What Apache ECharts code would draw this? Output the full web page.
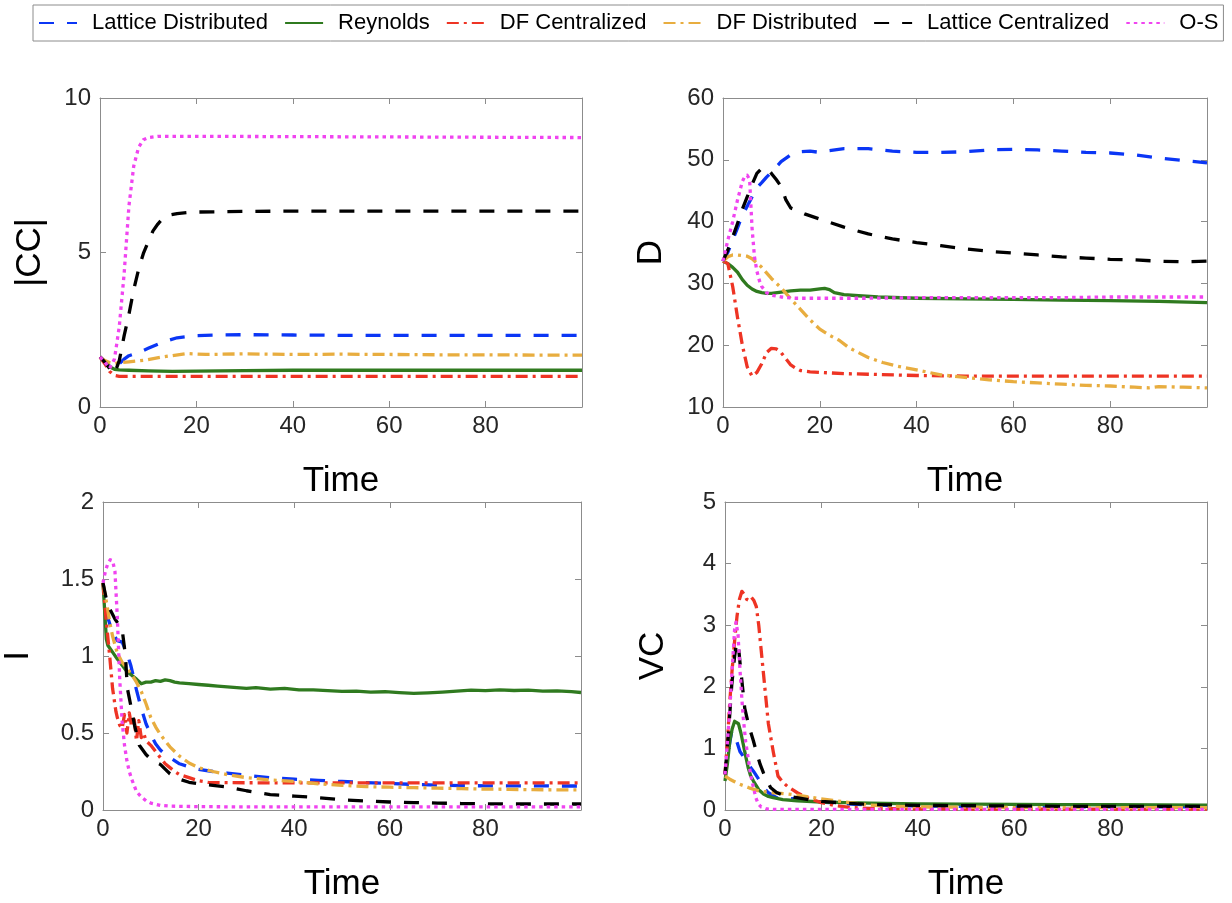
<!DOCTYPE html>
<html>
<head>
<meta charset="utf-8">
<script src="https://cdn.jsdelivr.net/npm/echarts@6/dist/echarts.min.js"></script>
<style>html,body{margin:0;padding:0;background:#fff;}#c{width:1232px;height:903px;}</style>
</head>
<body>
<div id="c"></div>
<script>
// ---------- DATA ----------
const seriesNames = ['Lattice Distributed','Reynolds','DF Centralized','DF Distributed','Lattice Centralized','O-S'];
const xTicks = [0,20,40,60,80];
const yNames = ['|CC|','D','I','VC'];

// |CC| panel
const icc_LD_t = [0,1,2,3,4,5,6,8,10,13,16,20,25,30,40,50,60,70,80,90,100];
const icc_LD_v = [1.62,1.48,1.32,1.2,1.4,1.55,1.66,1.76,1.9,2.1,2.24,2.31,2.33,2.34,2.33,2.32,2.32,2.32,2.32,2.32,2.32];
const icc_RE_t = [0,1,2,3,4,6,10,15,20,30,40,50,60,70,80,90,100];
const icc_RE_v = [1.62,1.45,1.3,1.22,1.2,1.19,1.17,1.15,1.16,1.18,1.19,1.19,1.19,1.19,1.19,1.19,1.19];
const icc_DC_t = [0,1,2,3,4,10,100];
const icc_DC_v = [1.62,1.4,1.15,1.02,0.99,0.99,0.99];
const icc_DD_t = [0,1,2,3,4,6,9,13,18,22,30,40,50,60,70,80,90,100];
const icc_DD_v = [1.62,1.5,1.44,1.41,1.43,1.46,1.51,1.62,1.73,1.7,1.72,1.7,1.71,1.7,1.69,1.69,1.68,1.68];
const icc_LC_t = [0,1,2,3,4,5,6,7,8,9,10,11,12,13,14,16,18,20,30,40,50,60,70,80,90,100];
const icc_LC_v = [1.62,1.45,1.25,1.08,1.5,2.3,3.0,3.8,4.45,4.97,5.35,5.7,5.92,6.1,6.2,6.26,6.29,6.31,6.33,6.34,6.34,6.34,6.34,6.34,6.34,6.34];
const icc_OS_t = [0,1,2,3,4,5,6,7,8,9,10,12,20,40,60,80,100];
const icc_OS_v = [1.62,1.45,1.25,1.55,2.6,4.3,6.5,7.8,8.4,8.65,8.72,8.76,8.76,8.75,8.74,8.73,8.72];

// D panel
const d_LD_t = [0,1,2,3,4,5,6,7,8,9,10,12,14,16,18,20,22,25,30,35,40,45,50,55,60,65,70,75,80,85,90,95,100];
const d_LD_v = [33.6,35,37,39,41,42.5,44,45.5,46.3,47.2,48,49.7,50.8,51.3,51.4,51.2,51.5,51.8,51.8,51.4,51.2,51.2,51.3,51.6,51.7,51.6,51.4,51.2,51.1,50.8,50.3,49.9,49.5];
const d_RE_t = [0,1,2,3,4,5,6,7,8,9,10,12,14,16,18,20,21,22,23,25,28,32,40,50,60,70,80,90,100];
const d_RE_v = [33.6,33.2,32.6,31.8,30.6,29.7,29.1,28.7,28.5,28.4,28.4,28.6,28.8,28.9,28.9,29.1,29.2,29.0,28.5,28.2,28.0,27.8,27.6,27.5,27.4,27.3,27.2,27.1,26.9];
const d_DC_t = [0,1,2,3,4,5,6,7,8,9,10,11,12,13,14,15,16,18,20,25,30,40,50,60,70,80,90,100];
const d_DC_v = [33.6,33.2,29.5,24.5,20,16.5,15,15.6,17,18.8,19.5,19.4,18.8,17.8,16.8,16.3,15.9,15.7,15.6,15.4,15.3,15.1,15.0,15.0,15.0,15.0,15.0,15.0];
const d_DD_t = [0,1,2,3,4,5,6,7,8,10,12,14,16,18,20,22,24,26,28,30,33,36,40,45,50,55,60,65,70,75,80,85,88,90,95,100];
const d_DD_v = [33.6,34.3,34.6,34.6,34.5,34.4,34.0,33.3,32.6,30.8,29.3,27.5,25.8,24.1,22.6,21.6,20.8,19.6,18.8,18.0,17.2,16.6,16.0,15.2,14.8,14.4,14.1,13.9,13.7,13.5,13.4,13.2,13.1,13.3,13.2,13.1];
const d_LC_t = [0,1,2,3,4,5,6,7,8,9,10,11,12,13,14,15,17,20,25,30,35,40,45,50,55,60,65,70,75,80,85,90,95,100];
const d_LC_v = [33.6,35.4,37.5,39.7,42,44,46,47.8,48.6,48.7,47.8,46.8,45.7,43.5,42.2,41.9,41.2,40.4,39.1,38,37.2,36.6,36.1,35.6,35.2,34.9,34.6,34.3,34.1,33.9,33.8,33.6,33.5,33.6];
const d_OS_t = [0,1,2,3,4,4.5,5,5.5,6,6.5,7,7.5,8,9,10,12,15,20,30,40,50,60,70,80,90,100];
const d_OS_v = [33.6,37,40,43.5,46.5,47.3,47.5,46.8,39,34.3,32,30.5,29.5,28.5,28.1,27.8,27.6,27.6,27.6,27.7,27.7,27.7,27.7,27.8,27.8,27.8];

// I panel
const i_LD_t = [0,1,1.5,2,3,4,5,5.8,6.5,7,8,9,10,11,12,13,14,16,18,20,23,26,30,35,40,45,50,55,60,65,70,75,80,85,90,95,100];
const i_LD_v = [1.475,1.25,1.2,1.15,1.1,1.09,1.02,0.94,0.85,0.78,0.66,0.56,0.49,0.43,0.39,0.36,0.34,0.3,0.28,0.264,0.25,0.24,0.225,0.21,0.2,0.193,0.185,0.178,0.172,0.166,0.162,0.158,0.157,0.157,0.157,0.156,0.156];
const i_RE_t = [0,0.7,1,2,3,4,5,6,7,8,9,10,11,12,13,14,15,16,18,20,22,24,26,28,30,32,35,38,41,44,47,50,53,56,59,62,65,68,71,74,77,80,83,86,89,92,95,98,100];
const i_RE_v = [1.475,1.11,1.07,1.025,0.98,0.94,0.9,0.875,0.85,0.82,0.83,0.83,0.84,0.835,0.845,0.84,0.83,0.825,0.82,0.815,0.81,0.805,0.8,0.795,0.79,0.795,0.785,0.79,0.78,0.78,0.775,0.77,0.772,0.765,0.768,0.762,0.757,0.76,0.765,0.772,0.778,0.775,0.78,0.776,0.778,0.772,0.774,0.768,0.763];
const i_DC_t = [0,0.7,1.4,2,2.7,3,3.5,4,4.5,5,5.5,6,6.5,7,7.5,8,8.5,9,10,11,12,13,14,15,16,18,20,22,25,30,40,50,60,70,80,90,100];
const i_DC_v = [1.475,1.22,1.0,0.79,0.64,0.6,0.55,0.53,0.62,0.5,0.63,0.54,0.6,0.45,0.58,0.47,0.5,0.45,0.42,0.38,0.34,0.3,0.275,0.25,0.23,0.21,0.19,0.18,0.178,0.177,0.176,0.176,0.176,0.176,0.176,0.176,0.176];
const i_DD_t = [0,1,1.4,2,2.7,3,4,5,6,7,8,9,10,11,12,13,14,16,18,20,23,26,30,35,40,45,50,55,60,65,70,75,80,85,90,95,100];
const i_DD_v = [1.475,1.3,1.22,1.13,1.05,1.02,0.96,0.92,0.88,0.83,0.77,0.69,0.6,0.54,0.49,0.45,0.41,0.35,0.305,0.275,0.25,0.23,0.21,0.195,0.185,0.17,0.16,0.152,0.148,0.145,0.142,0.139,0.136,0.134,0.132,0.131,0.131];
const i_LC_t = [0,0.7,1.5,2.5,3.4,4,4.7,5.1,5.8,6.6,7.6,9,10,11,12,13,14,16,18,20,23,26,30,35,40,45,50,55,60,65,70,75,80,85,90,95,100];
const i_LC_v = [1.475,1.37,1.3,1.24,1.2,1.175,1.0,0.79,0.68,0.55,0.42,0.36,0.33,0.31,0.296,0.265,0.235,0.2,0.18,0.17,0.16,0.15,0.125,0.1,0.09,0.08,0.066,0.058,0.052,0.048,0.045,0.042,0.04,0.039,0.039,0.039,0.039];
const i_OS_t = [0,0.5,1,1.5,2,2.5,3,3.5,4,4.5,5,5.5,6,7,8,9,10,12,14,20,30,100];
const i_OS_v = [1.475,1.55,1.6,1.625,1.62,1.55,1.25,0.85,0.575,0.42,0.32,0.25,0.2,0.12,0.085,0.06,0.045,0.03,0.025,0.022,0.02,0.02];

// VC panel
const vc_LD_t = [0,0.5,1,1.4,1.8,2.3,3.1,3.8,4.5,5.2,5.9,7,8,9,10.7,12,14.9,18,20,25,30,40,50,60,70,80,90,100];
const vc_LD_v = [0.58,0.85,1.1,1.28,1.3,1.15,0.95,0.87,0.79,0.7,0.63,0.5,0.365,0.28,0.2,0.19,0.18,0.15,0.13,0.1,0.08,0.065,0.06,0.055,0.05,0.05,0.05,0.05];
const vc_RE_t = [0,0.5,1,1.5,2,2.4,2.8,3.3,3.8,4.3,4.8,5.3,5.9,7,8,9,10,12,15,20,25,30,40,50,60,70,80,90,100];
const vc_RE_v = [0.47,0.75,1.12,1.32,1.44,1.46,1.4,1.25,1.06,0.87,0.69,0.56,0.47,0.33,0.26,0.22,0.2,0.17,0.15,0.13,0.12,0.11,0.1,0.095,0.09,0.088,0.085,0.082,0.08];
const vc_DC_t = [0,0.5,1,1.5,2,2.5,3,3.5,4,4.5,5,5.5,6,6.5,7,7.5,8,8.5,9,10,11,12,13,14,15,17,20,23,26,30,40,50,60,70,80,90,100];
const vc_DC_v = [0.58,1.1,1.76,2.3,2.75,3.15,3.42,3.55,3.5,3.42,3.4,3.45,3.4,3.3,3.0,2.6,2.2,1.8,1.4,0.95,0.55,0.45,0.38,0.33,0.28,0.2,0.12,0.07,0.04,0.025,0.02,0.015,0.015,0.015,0.015,0.015,0.015];
const vc_DD_t = [0,1,2,3,5,7,10,13,16,19,22,26,30,35,40,50,60,70,80,90,100];
const vc_DD_v = [0.55,0.5,0.46,0.42,0.36,0.31,0.28,0.26,0.23,0.19,0.16,0.12,0.08,0.06,0.05,0.045,0.04,0.04,0.04,0.04,0.04];
const vc_LC_t = [0,0.7,1.4,2,2.4,2.8,3.1,3.5,4.1,5,5.9,6.6,7.3,8,8.7,9.5,10.7,12,14.9,18,20,25,30,40,50,60,70,80,90,100];
const vc_LC_v = [0.58,1.22,2.03,2.5,2.72,2.65,2.4,2.1,1.65,1.35,1.12,0.92,0.74,0.6,0.47,0.36,0.285,0.24,0.2,0.16,0.14,0.11,0.09,0.075,0.07,0.065,0.06,0.06,0.06,0.06];
const vc_OS_t = [0,0.5,1,1.5,2,2.3,2.7,3.1,3.5,3.8,4.3,4.8,5.3,5.9,6.4,6.9,7.5,8.7,10,20,100];
const vc_OS_v = [0.58,1.1,1.65,2.3,2.94,3.05,2.85,2.29,1.8,1.49,1.1,0.85,0.58,0.365,0.2,0.1,0.05,0.016,0.01,0.01,0.01];

// ---------- STYLE / LAYOUT ----------
const FONT = "'Liberation Sans', Arial, Helvetica, sans-serif";
const colors = ['#0b36f5','#2f7a1f','#ee3424','#e8ad3f','#000000','#f044f0'];
const dashes = [[15,13],'solid',[12,5,3,5],[12,5,3,5],[15,13],[3.5,4]];
const AX = '#8c8c8c';
const TXT = '#262626';

const grids = [
  {left:100, top:98, width:482, height:309},
  {left:723, top:98, width:484, height:309},
  {left:99, top:502, width:482, height:311},
  {left:725, top:502, width:482, height:311}
];
const yRanges = [[0,10,5],[10,60,10],[0,2,0.5],[0,5,1]];
const yNameGaps = [52,54,67,54];

const panels = [
  [[icc_LD_t,icc_LD_v],[icc_RE_t,icc_RE_v],[icc_DC_t,icc_DC_v],[icc_DD_t,icc_DD_v],[icc_LC_t,icc_LC_v],[icc_OS_t,icc_OS_v]],
  [[d_LD_t,d_LD_v],[d_RE_t,d_RE_v],[d_DC_t,d_DC_v],[d_DD_t,d_DD_v],[d_LC_t,d_LC_v],[d_OS_t,d_OS_v]],
  [[i_LD_t,i_LD_v],[i_RE_t,i_RE_v],[i_DC_t,i_DC_v],[i_DD_t,i_DD_v],[i_LC_t,i_LC_v],[i_OS_t,i_OS_v]],
  [[vc_LD_t,vc_LD_v],[vc_RE_t,vc_RE_v],[vc_DC_t,vc_DC_v],[vc_DD_t,vc_DD_v],[vc_LC_t,vc_LC_v],[vc_OS_t,vc_OS_v]]
];

const xAxes = [], yAxes = [], series = [];
grids.forEach((g, gi) => {
  const base = {
    type:'value', gridIndex:gi, min:0, max:100, interval:20,
    axisLine:{show:true, onZero:false, lineStyle:{color:AX, width:1}},
    axisTick:{show:true, inside:true, length:6, lineStyle:{color:AX}},
    splitLine:{show:false}
  };
  xAxes.push(Object.assign({}, base, {
    position:'bottom',
    axisLabel:{show:true, fontSize:24, color:TXT, fontFamily:FONT, margin:7, showMaxLabel:false,
      formatter: v => xTicks.indexOf(v) >= 0 ? String(v) : ''},
    name:'Time', nameLocation:'middle', nameGap:57,
    nameTextStyle:{fontSize:35, color:'#000', fontFamily:FONT}
  }));
  xAxes.push(Object.assign({}, base, {position:'top', axisLabel:{show:false}}));
  const yr = yRanges[gi];
  const ybase = {
    type:'value', gridIndex:gi, min:yr[0], max:yr[1], interval:yr[2],
    axisLine:{show:true, onZero:false, lineStyle:{color:AX, width:1}},
    axisTick:{show:true, inside:true, length:6, lineStyle:{color:AX}},
    splitLine:{show:false}
  };
  yAxes.push(Object.assign({}, ybase, {
    position:'left',
    axisLabel:{show:true, fontSize:24, color:TXT, fontFamily:FONT, margin:9},
    name:yNames[gi], nameLocation:'middle', nameGap:yNameGaps[gi],
    nameTextStyle:{fontSize:35, color:'#000', fontFamily:FONT}
  }));
  yAxes.push(Object.assign({}, ybase, {position:'right', axisLabel:{show:false}}));

  panels[gi].forEach((p, si) => {
    series.push({
      type:'line', name:seriesNames[si],
      xAxisIndex:gi*2, yAxisIndex:gi*2,
      data:p[0].map((t,k)=>[t,p[1][k]]),
      symbol:'none', showSymbol:false, smooth:false,
      color:colors[si],
      lineStyle:{color:colors[si], width:3.3, type:dashes[si], cap:'butt', join:'round'},
      z: 2 + si,
      animation:false
    });
  });
});

const chart = echarts.init(document.getElementById('c'), null, {renderer:'canvas'});
chart.setOption({
  backgroundColor:'#ffffff',
  animation:false,
  grid:grids,
  xAxis:xAxes,
  yAxis:yAxes,
  legend:{
    data:seriesNames,
    left:33, top:5, width:1400,
    orient:'horizontal',
    itemWidth:38, itemHeight:14, itemGap:16,
    padding:[7,5],
    borderColor:'#8c8c8c', borderWidth:1,
    backgroundColor:'#fff',
    itemStyle:{opacity:0},
    textStyle:{fontSize:22, color:'#000', fontFamily:FONT, padding:[0,0,0,10]}
  },
  series:series
});
</script>
</body>
</html>
